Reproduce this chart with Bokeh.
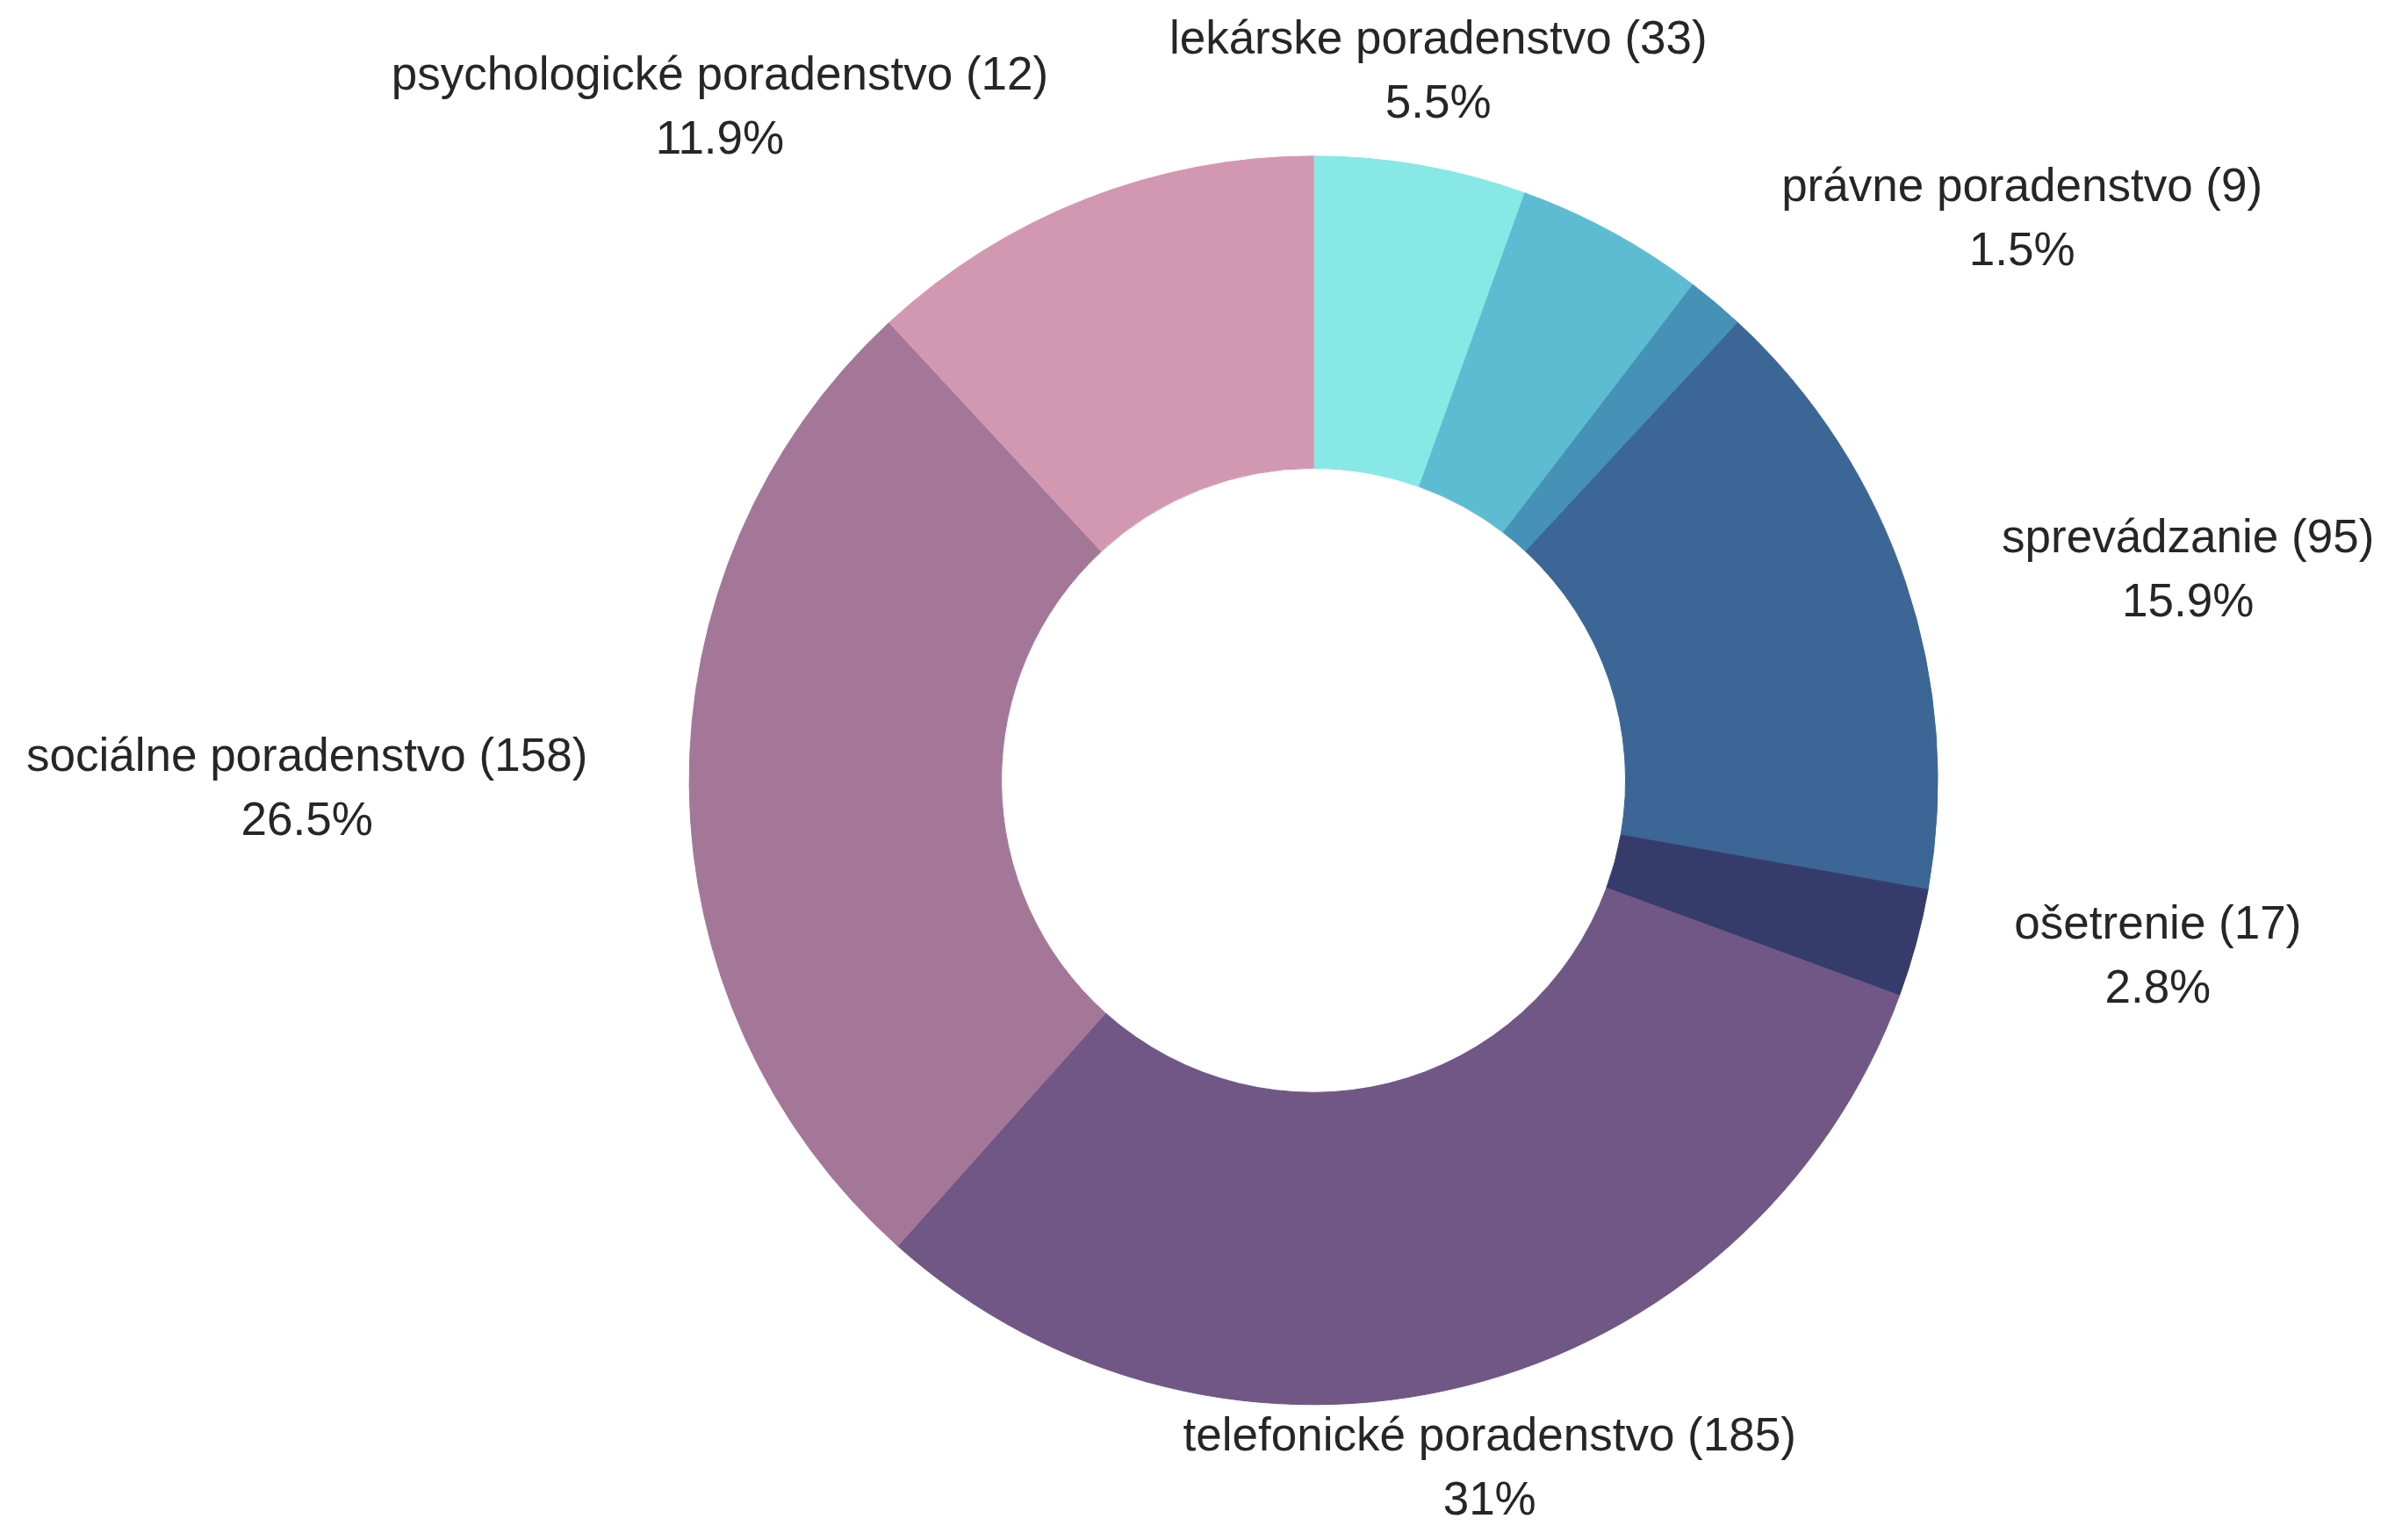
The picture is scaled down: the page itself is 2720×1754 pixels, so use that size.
import math
from bokeh.plotting import figure
from bokeh.models import ColumnDataSource
from bokeh.core.properties import value
from bokeh.embed import file_html
from bokeh.resources import INLINE

# ---- data (clockwise from 12 o'clock) ----
names = ["lekárske poradenstvo", "", "právne poradenstvo", "sprevádzanie",
         "ošetrenie", "telefonické poradenstvo", "sociálne poradenstvo",
         "psychologické poradenstvo"]
counts = [33, None, 9, 95, 17, 185, 158, 12]
percents = [5.5, 4.9, 1.5, 15.9, 2.8, 31.0, 26.5, 11.9]
colors = ["#87e8e6", "#5ebcd2", "#4691b6", "#3c6695", "#353c6c",
          "#705786", "#a47799", "#d398b1"]

# ---- layout ----
W, H = 2704, 1738
PX = 711.0                 # pixels per data unit (outer radius = 1)
CX, CY = 1495.6, 888.3     # donut centre in frame pixels (from top-left)
FONT_PX = 53
LINE_PX = 73
TEXT_COLOR = "#262626"

y_lo = -(H - CY) / PX
p = figure(width=W, height=H,
           x_range=(-CX / PX, (W - CX) / PX),
           y_range=(y_lo, CY / PX),
           output_backend="svg", toolbar_location=None,
           x_axis_location=None, y_axis_location=None,
           min_border=0, outline_line_color=None)
p.grid.visible = False
p.background_fill_color = "white"
p.border_fill_color = "white"

total = sum(percents)
starts, ends = [], []
acc = 0.0
for v in percents:
    starts.append(acc / total)
    acc += v
    ends.append(acc / total)

src = ColumnDataSource(dict(
    start=[math.pi / 2 - 2 * math.pi * s for s in starts],
    end=[math.pi / 2 - 2 * math.pi * e for e in ends],
    color=colors,
))
p.annular_wedge(x=0, y=0, inner_radius=0.5, outer_radius=1.0,
                start_angle="start", end_angle="end", direction="clock",
                fill_color="color", line_color="color", line_width=1,
                source=src)

# Arial / Liberation Sans advance widths (per 1000 em)
AW = {'a': 556, 'b': 556, 'c': 500, 'd': 556, 'e': 556, 'f': 278, 'g': 556,
      'h': 556, 'i': 222, 'j': 222, 'k': 500, 'l': 222, 'm': 833, 'n': 556,
      'o': 556, 'p': 556, 'q': 556, 'r': 333, 's': 500, 't': 278, 'u': 556,
      'v': 500, 'w': 722, 'x': 500, 'y': 500, 'z': 500, 'á': 556, 'é': 556,
      'š': 500, ' ': 278, '(': 333, ')': 333, '.': 278, '%': 889}


def text_w(s):
    return sum(AW.get(ch, 556) for ch in s) / 1000.0 * FONT_PX / PX


lh = LINE_PX / PX
min_y = y_lo + 32 / PX     # keep the lowest line inside the canvas
tx, ty, tt = [], [], []
for name, cnt, pct, s0, e0 in zip(names, counts, percents, starts, ends):
    if not name:
        continue
    th = 2 * math.pi * (s0 + e0) / 2
    sn, cs = math.sin(th), math.cos(th)
    x0, y0 = 1.163 * sn, 1.07 * cs
    t1 = f"{name} ({cnt})"
    t2 = f"{pct:g}%"
    w = max(text_w(t1), text_w(t2))
    if sn > 0.3:
        xc = x0 + w / 2
    elif sn < -0.3:
        xc = x0 - w / 2
    else:
        xc = x0
    if cs > 0.7:
        y2 = y0 + 0.33 * lh
        y1 = y2 + lh
    elif cs < -0.7:
        y1 = y0 - 0.4 * lh
        y2 = y1 - lh
    else:
        y1 = y0 + 0.5 * lh
        y2 = y0 - 0.5 * lh
    if y2 < min_y:
        d = min_y - y2
        y1 += d
        y2 += d
    tx += [xc, xc]
    ty += [y1, y2]
    tt += [t1, t2]

lsrc = ColumnDataSource(dict(x=tx, y=ty, text=tt))
p.text(x="x", y="y", text="text", source=lsrc,
       text_align="center", text_baseline="middle",
       text_font=value("Liberation Sans"), text_font_size=f"{FONT_PX}px",
       text_color=TEXT_COLOR)

open("out.html", "w").write(file_html(p, INLINE))
